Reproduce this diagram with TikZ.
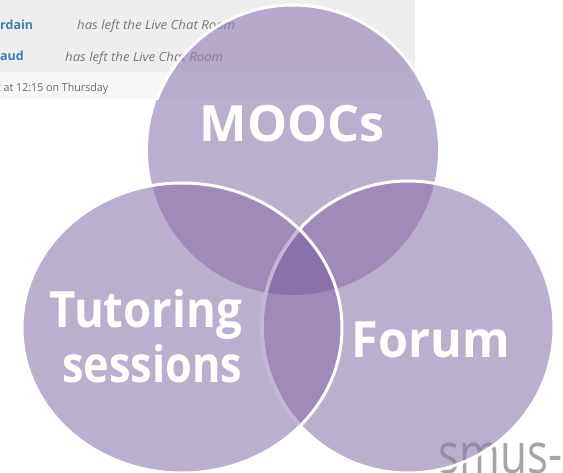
\documentclass[tikz,border=0pt]{standalone}
\usepackage{fontspec}
\setmainfont{Open Sans}
\usepackage{graphicx}
\definecolor{band}{RGB}{238,238,238}
\definecolor{bandlow}{RGB}{247,247,247}
\definecolor{single}{RGB}{143,122,178}
\definecolor{pair}{RGB}{159,138,185}
\definecolor{triple}{RGB}{139,113,169}
\definecolor{lightline}{RGB}{194,182,214}
\definecolor{namecol}{RGB}{62,124,184}
\definecolor{msgcol}{RGB}{120,120,120}
\definecolor{datecol}{RGB}{105,105,105}
\definecolor{smuscol}{RGB}{165,165,165}
\begin{document}
\begin{tikzpicture}[x=1pt,y=-1pt,
  lbl/.style={anchor=base,inner sep=0pt,text=white,font=\fontsize{50}{60}\selectfont\bfseries},
  small/.style={anchor=base west,inner sep=0pt},
  border/.style={draw=white,line width=3pt}]
\useasboundingbox (0,0) rectangle (563,473);
\clip (0,0) rectangle (563,473);
\fill[white] (0,0) rectangle (563,473);
% background screenshot
\fill[band] (0,0) rectangle (415,72);
\fill[bandlow] (0,72) rectangle (415,99);
\node[small,text=namecol,font=\fontsize{12.5}{14}\selectfont\bfseries] (n1) at (0,29.5) {rdain};
\node[small,text=msgcol,font=\fontsize{12.5}{14}\selectfont\itshape] (m1) at (77,30) {\resizebox{158pt}{\height}{has left the Live Chat Room}};
\node[small,text=namecol,font=\fontsize{12.5}{14}\selectfont\bfseries] (n2) at (0,61) {aud};
\node[small,text=msgcol,font=\fontsize{12.5}{14}\selectfont\itshape] (m2) at (65,62) {\resizebox{158pt}{\height}{has left the Live Chat Room}};
\node[small,text=datecol,font=\fontsize{11}{13}\selectfont] (d1) at (-3,92) {\resizebox{111pt}{\height}{t at 12:15 on Thursday}};
\node[small,text=smuscol,font=\fontsize{56}{60}\selectfont] (smus) at (438,473) {\resizebox{124pt}{\height}{smus-}};
% circles
\def\Mpath{(293,150) circle [radius=145]}
\def\Tpath{(182,328) ellipse [x radius=160, y radius=145]}
\def\Fpath{(408,327) circle [radius=146]}
\fill[single,fill opacity=0.6] \Mpath;
\begin{scope}
  \clip (0,0) rectangle (563,100);
  \draw[border] \Mpath;
\end{scope}
\fill[single,fill opacity=0.6] \Fpath;
\fill[single,fill opacity=0.6] \Tpath;
\begin{scope}\clip \Mpath; \fill[pair] \Tpath; \fill[pair] \Fpath; \end{scope}
\begin{scope}\clip \Tpath; \fill[pair] \Fpath; \end{scope}
\begin{scope}\clip \Mpath; \clip \Tpath; \fill[triple] \Fpath; \end{scope}
\draw[border] \Fpath;
\begin{scope}\clip \Tpath; \draw[lightline,line width=3.4pt] \Fpath; \end{scope}
\draw[border] \Tpath;
% labels
\node[lbl] (moocs) at (292.5,142) {\resizebox{185pt}{\height}{MOOCs}};
\node[lbl] (tut) at (146,328) {\resizebox{192pt}{\height}{Tutoring}};
\node[lbl] (ses) at (152,383) {\resizebox{180pt}{\height}{sessions}};
\node[lbl] (forum) at (431,358) {\resizebox{158pt}{\height}{Forum}};
\end{tikzpicture}
\end{document}
